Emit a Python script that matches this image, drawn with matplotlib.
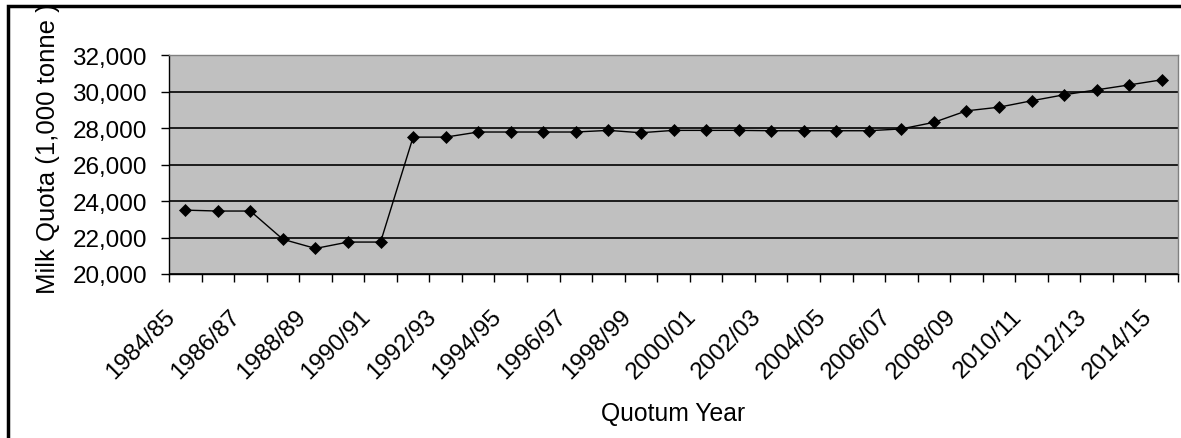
import numpy as np
import matplotlib
matplotlib.use('Agg')
import matplotlib.pyplot as plt
from matplotlib.ticker import FuncFormatter
from matplotlib.transforms import ScaledTranslation
from matplotlib.lines import Line2D

# ---- data ----
years = ['1984/85', '1985/86', '1986/87', '1987/88', '1988/89', '1989/90',
         '1990/91', '1991/92', '1992/93', '1993/94', '1994/95', '1995/96',
         '1996/97', '1997/98', '1998/99', '1999/00', '2000/01', '2001/02',
         '2002/03', '2003/04', '2004/05', '2005/06', '2006/07', '2007/08',
         '2008/09', '2009/10', '2010/11', '2011/12', '2012/13', '2013/14',
         '2014/15']
quota = [23500, 23450, 23450, 21900, 21400, 21750, 21750, 27500, 27500,
         27780, 27780, 27780, 27780, 27870, 27740, 27870, 27870, 27870,
         27850, 27850, 27850, 27850, 27950, 28310, 28940, 29140, 29490,
         29820, 30090, 30360, 30640]
y_ticks = [20000, 22000, 24000, 26000, 28000, 30000, 32000]
x_title = 'Quotum Year'
y_title = 'Milk Quota (1,000 tonne )'

plt.rcParams['font.family'] = ['Liberation Sans', 'DejaVu Sans']
plt.rcParams['font.size'] = 17.5

W, H = 1181, 439
fig = plt.figure(figsize=(W / 100, H / 100), dpi=100)
L, R, T, B = 169, 1178, 56, 275
ax = fig.add_axes([L / W, (H - B) / H, (R - L) / W, (B - T) / H])

x = np.arange(len(years))
ax.plot(x, quota, color='black', lw=1.0, marker='D', ms=6.0,
        mfc='black', mec='black', mew=0.5, zorder=3)

ax.set_facecolor('#C0C0C0')
ax.set_xlim(-0.5, len(years) - 0.5)
ax.set_ylim(y_ticks[0], y_ticks[-1])
ax.set_yticks(y_ticks)
ax.yaxis.set_major_formatter(FuncFormatter(lambda v, p: f'{int(v):,}'))
ax.grid(axis='y', color='black', lw=1.2, zorder=1)
ax.set_axisbelow(True)

# category boundary ticks, labels on every other category centre
ax.set_xticks(np.arange(len(years) + 1) - 0.5)
ax.set_xticklabels([])
ax.set_xticks(x[::2], labels=years[::2], minor=True)
ax.tick_params(axis='x', which='major', direction='out', length=5.8, width=1.0, color='black')
ax.tick_params(axis='x', which='minor', length=0, pad=22.3)
ax.tick_params(axis='y', direction='out', length=5.8, width=1.0, pad=10, color='black')
shift = ScaledTranslation(-21 / 100, 0, fig.dpi_scale_trans)
for lab in ax.get_xticklabels(minor=True):
    lab.set_rotation(45)
    lab.set_ha('right')
    lab.set_va('top')
    lab.set_rotation_mode('anchor')
    lab.set_transform(lab.get_transform() + shift)

for s in ['top', 'right']:
    ax.spines[s].set_color('#808080')
    ax.spines[s].set_linewidth(1.0)
for s in ['left', 'bottom']:
    ax.spines[s].set_color('black')
    ax.spines[s].set_linewidth(1.0)

ax.set_xlabel(x_title, fontsize=17.8)
ax.xaxis.set_label_coords(0.5, (B - 402) / (B - T))
ax.set_ylabel(y_title, fontsize=18.5)
ax.yaxis.set_label_coords((60 - L) / (R - L), (B - 149) / (B - T))

# outer frame (left and top visible)
fig.add_artist(Line2D([8.3 / W, 8.3 / W, 1.0], [0.0, 1 - 7 / H, 1 - 7 / H],
                      transform=fig.transFigure, color='black', lw=2.5,
                      solid_joinstyle='miter', zorder=10))

fig.savefig('out.png', dpi=100)
